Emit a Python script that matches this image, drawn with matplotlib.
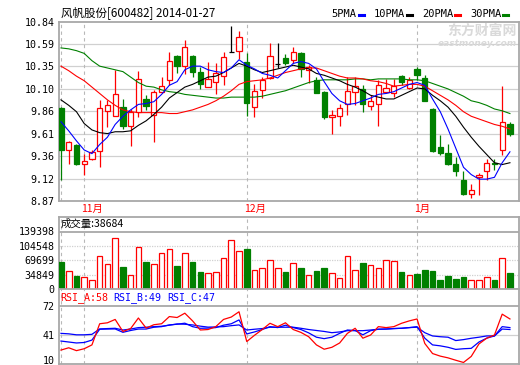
import matplotlib
matplotlib.use("Agg")
import matplotlib.pyplot as plt
from matplotlib.lines import Line2D
import numpy as np

# candle data (one entry per trading day)
opens = [9.886, 9.434, 9.489, 9.28, 9.335, 9.419, 9.856, 9.80, 9.903, 9.694,
         9.842, 9.988, 9.812, 10.069, 10.198, 10.462, 10.355, 10.462, 10.289, 10.117,
         10.172, 10.245, 10.51, 10.52, 10.399, 9.897, 10.087, 10.216, 10.371, 10.443,
         10.418, 10.492, 10.308, 10.198, 10.069, 9.787, 9.80, 9.933, 10.062, 10.095,
         9.911, 9.93, 10.069, 10.058, 10.242, 10.106, 10.319, 10.223, 9.878, 9.459,
         9.401, 9.272, 9.096, 8.949, 9.132, 9.203, 9.29, 9.426, 9.713]
closes = [9.434, 9.518, 9.28, 9.313, 9.408, 9.886, 9.919, 10.04, 9.694, 9.848,
          10.205, 9.911, 10.062, 10.128, 10.407, 10.355, 10.558, 10.289, 10.15, 10.212,
          10.271, 10.448, 10.51, 10.668, 9.948, 10.08, 10.197, 10.462, 10.371, 10.381,
          10.503, 10.316, 10.344, 10.058, 9.787, 9.812, 9.886, 10.08, 10.132, 9.93,
          9.966, 10.143, 10.106, 10.132, 10.176, 10.198, 10.253, 9.966, 9.415, 9.401,
          9.272, 9.198, 8.942, 8.986, 9.159, 9.287, 9.28, 9.738, 9.61]
highs = [9.90, 9.53, 9.50, 9.39, 9.426, 9.977, 9.977, 10.308, 9.988, 9.875,
         10.297, 10.032, 10.087, 10.227, 10.51, 10.473, 10.638, 10.473, 10.344, 10.40,
         10.382, 10.50, 10.793, 10.741, 10.492, 10.154, 10.23, 10.609, 10.609, 10.48,
         10.565, 10.503, 10.363, 10.234, 10.076, 9.867, 9.93, 10.234, 10.234, 10.143,
         10.032, 10.198, 10.209, 10.209, 10.253, 10.234, 10.344, 10.253, 9.886, 9.592,
         9.50, 9.353, 9.198, 9.06, 9.176, 9.335, 9.335, 10.132, 9.738]
lows = [9.096, 9.28, 9.27, 9.159, 9.316, 9.242, 9.683, 9.80, 9.658, 9.474,
        9.787, 9.867, 9.518, 10.058, 10.143, 10.27, 10.264, 10.234, 10.095, 10.117,
        10.04, 10.143, 10.50, 10.426, 9.80, 9.793, 9.996, 10.21, 10.333, 10.363,
        10.388, 10.234, 10.168, 10.051, 9.768, 9.61, 9.694, 9.812, 9.922, 9.848,
        9.867, 9.694, 10.051, 10.007, 10.143, 10.095, 10.198, 9.966, 9.408, 9.371,
        9.261, 9.14, 8.931, 8.90, 8.931, 9.104, 9.214, 9.379, 9.58]
volumes = [66000, 43600, 31500, 29000, 21800, 80000, 60600, 123000, 53300, 34000,
           102000, 65400, 60600, 87300, 97000, 55000, 88000, 65000, 41000, 40000,
           42000, 74000, 118000, 91000, 98000, 46000, 50000, 70000, 52000, 41000,
           64000, 50000, 33000, 43000, 50000, 38000, 26000, 79000, 47000, 62000,
           57000, 52000, 71000, 67000, 41000, 35000, 36000, 46000, 43000, 22000,
           31000, 24000, 29000, 21000, 21000, 28000, 22000, 74000, 38684]

ma5 = [9.74, 9.64, 9.53, 9.43, 9.39, 9.49, 9.57, 9.71, 9.80, 9.87,
       9.93, 9.94, 9.96, 10.04, 10.14, 10.18, 10.31, 10.35, 10.35, 10.31,
       10.29, 10.28, 10.33, 10.42, 10.36, 10.32, 10.27, 10.25, 10.22, 10.30,
       10.38, 10.40, 10.38, 10.32, 10.18, 10.05, 9.97, 9.93, 9.94, 9.97,
       10.00, 10.04, 10.05, 10.07, 10.11, 10.15, 10.17, 10.14, 9.99, 9.85,
       9.66, 9.45, 9.24, 9.16, 9.11, 9.11, 9.13, 9.29, 9.41]
ma10 = [9.98, 9.92, 9.85, 9.72, 9.65, 9.62, 9.61, 9.63, 9.63, 9.64,
        9.70, 9.75, 9.82, 9.90, 10.00, 10.06, 10.12, 10.15, 10.19, 10.23,
        10.24, 10.28, 10.33, 10.38, 10.35, 10.31, 10.28, 10.30, 10.32, 10.34,
        10.36, 10.34, 10.32, 10.27, 10.25, 10.22, 10.19, 10.15, 10.12, 10.08,
        10.03, 10.01, 9.99, 9.99, 10.03, 10.07, 10.11, 10.10, 10.03, 9.97,
        9.90, 9.80, 9.68, 9.57, 9.47, 9.38, 9.29, 9.27, 9.29]
ma20 = [10.35, 10.30, 10.24, 10.19, 10.12, 10.05, 9.98, 9.92, 9.87, 9.85,
        9.84, 9.84, 9.84, 9.84, 9.83, 9.83, 9.85, 9.87, 9.90, 9.93,
        9.97, 10.02, 10.08, 10.15, 10.18, 10.19, 10.20, 10.22, 10.25, 10.28,
        10.30, 10.32, 10.33, 10.33, 10.30, 10.27, 10.24, 10.22, 10.22, 10.21,
        10.19, 10.18, 10.16, 10.13, 10.14, 10.15, 10.15, 10.13, 10.08, 10.03,
        9.98, 9.92, 9.85, 9.80, 9.77, 9.74, 9.71, 9.69, 9.66]
ma30 = [10.55, 10.54, 10.52, 10.49, 10.41, 10.35, 10.33, 10.31, 10.29, 10.23,
        10.17, 10.13, 10.12, 10.09, 10.07, 10.06, 10.04, 10.03, 10.02, 10.01,
        10.00, 10.00, 10.01, 10.01, 10.01, 10.01, 10.02, 10.04, 10.06, 10.08,
        10.11, 10.14, 10.17, 10.19, 10.20, 10.20, 10.20, 10.20, 10.21, 10.21,
        10.20, 10.21, 10.21, 10.21, 10.21, 10.20, 10.20, 10.19, 10.16, 10.13,
        10.10, 10.06, 10.02, 9.97, 9.95, 9.92, 9.88, 9.86, 9.83]

rsi_a = [25.6, 28, 25, 27, 31, 53, 54, 57.5, 45, 48,
         59, 48.5, 52, 53, 60.5, 59.5, 64, 56, 46.5, 47,
         50, 57.5, 60, 65.5, 34.5, 41, 47, 53.5, 50, 54,
         47, 44, 39.5, 31, 26.5, 28.5, 33, 43, 48.3, 38,
         41.3, 50, 49, 50, 53.5, 56, 58, 32.5, 22, 19.3,
         17.5, 15, 12.7, 19, 32, 38, 41.3, 63, 58]
rsi_b = [35, 34, 33, 33.5, 36, 47.3, 47.5, 47.6, 44.1, 46,
         47.5, 47.5, 49.4, 50, 51.8, 52.5, 53.6, 50, 48.3, 48.5,
         49, 51.5, 53, 57, 42.4, 44.5, 47, 50, 49, 51.5,
         49, 47, 43.5, 39, 37.5, 39, 43, 46.5, 46, 41.5,
         45.8, 47.3, 47.5, 48, 48.3, 49, 50, 38, 31, 30,
         28.5, 26.3, 27, 27.4, 34, 38, 40.3, 50, 49]
rsi_c = [43, 42.5, 41.5, 41.5, 42, 47.6, 48, 48.3, 46.5, 47.5,
         49, 49.4, 50, 50.4, 51.5, 52.8, 52.5, 51.8, 50.5, 49.5,
         49.7, 50, 51, 51.8, 46.5, 47.3, 48, 49.4, 49.4, 49.4,
         49.4, 48.3, 47, 46, 45, 43.7, 44.5, 45.8, 45.8, 45.8,
         46.5, 47.3, 47.5, 48, 48.3, 49, 49.4, 43.7, 40.3, 39.5,
         39, 35.5, 36.5, 37.9, 39, 40.3, 40.3, 47.5, 47]

price_ticks = [8.87, 9.11625, 9.3625, 9.60875, 9.855, 10.10125, 10.3475, 10.59375, 10.84]
price_labels = ["8.87", "9.12", "9.36", "9.61", "9.86", "10.10", "10.35", "10.59", "10.84"]
vol_ticks = [0, 34849, 69699, 104548, 139398]
month_idx = [3, 24, 46]
month_labels = ["11月", "12月", "1月"]
divider_idx = [0, 3, 24, 46]

RED = "#ff0000"
GREEN = "#008000"
BLUE = "#0000ff"
FRAME = "#a8a8a8"
GRID = "#d0d0d0"
CJK = ["Noto Sans CJK SC", "DejaVu Sans"]
MONO = "DejaVu Sans Mono"

W, H = 520, 365
fig = plt.figure(figsize=(W / 100, H / 100), dpi=100)
fig.patch.set_facecolor("white")


def box(l, t, r, b):
    return [l / W, 1 - b / H, (r - l) / W, (b - t) / H]


ax = fig.add_axes(box(58.5, 21.5, 519, 201))
axv = fig.add_axes(box(58.5, 216.5, 519, 289))
axr = fig.add_axes(box(58.5, 289, 519, 364))

n = len(closes)
x = np.arange(n)
xlim = (-0.32, 59.17)

for a in (ax, axv, axr):
    a.set_xlim(*xlim)
    a.set_xticks([])
    for s in a.spines.values():
        s.set_color(FRAME)
        s.set_linewidth(1.3)
    for d in divider_idx:
        a.axvline(d, color="#b8b8b8", lw=0.8, ls=(0, (3, 3)), zorder=1)
    a.tick_params(axis="y", length=0, pad=3, labelsize=7.2)
    for lab in a.get_yticklabels():
        lab.set_family(MONO)

# ---- price panel
ax.set_ylim(8.87, 10.84)
ax.set_yticks(price_ticks)
ax.set_yticklabels(price_labels, family=MONO, fontsize=7.2)
for t in price_ticks[1:-1]:
    ax.axhline(t, color=GRID, lw=0.9, zorder=0)

body_w = 0.68
for i in range(n):
    o, c, h, l = opens[i], closes[i], highs[i], lows[i]
    if abs(c - o) < 0.005 and i != 56:
        ax.vlines(i, l, h, color="black", lw=0.9, zorder=3)
        ax.hlines(o, i - body_w / 2, i + body_w / 2, color="black", lw=0.9, zorder=3)
        continue
    up = c >= o
    col = RED if up else GREEN
    ax.vlines(i, l, h, color=col, lw=0.9, zorder=2)
    lo, hi = min(o, c), max(o, c)
    ax.bar(i, max(hi - lo, 0.004), bottom=lo, width=body_w,
           facecolor="white" if up else GREEN, edgecolor=col, lw=0.9, zorder=3)

ax.plot(x, ma30, color=GREEN, lw=0.8, zorder=4)
ax.plot(x, ma20, color=RED, lw=0.8, zorder=4)
ax.plot(x, ma10, color="black", lw=0.8, zorder=4)
ax.plot(x, ma5, color=BLUE, lw=0.8, zorder=4)

for d, lab in zip(month_idx, month_labels):
    ax.annotate(lab, xy=(d, 0), xycoords=("data", "axes fraction"),
                xytext=(-2, -2), textcoords="offset points",
                ha="left", va="top", color=RED, fontsize=7.5, family=CJK)

# ---- volume panel
vol_top = 139398 * 72.5 / 57.5
axv.set_ylim(0, vol_top)
axv.set_yticks(vol_ticks)
axv.set_yticklabels([str(v) for v in vol_ticks], family=MONO, fontsize=7.2)
axv.axhline(139398, color=FRAME, lw=1.3, zorder=1)
for t in vol_ticks[1:-1]:
    axv.axhline(t, color=GRID, lw=0.9, ls=(0, (1, 1)), zorder=0)
for i in range(n):
    up = closes[i] >= opens[i]
    col = RED if up else GREEN
    axv.bar(i, volumes[i], width=0.72, facecolor="white" if up else GREEN,
            edgecolor=col, lw=0.9, zorder=3)
axv.text(0.004, (139398 + vol_top) / 2 / vol_top, "成交量:%d" % volumes[-1],
         transform=axv.transAxes, ha="left", va="center", fontsize=7.5,
         family=CJK, color="black")

# ---- RSI panel
axr.set_ylim(11.1, 89.2)
axr.set_yticks([15.3, 41, 72])
axr.set_yticklabels(["10", "41", "72"], family=MONO, fontsize=7.2)
axr.axhline(72, color=FRAME, lw=1.3, zorder=1)
axr.axhline(41, color=GRID, lw=0.9, zorder=0)
axr.plot(x, rsi_c, color=BLUE, lw=0.9, zorder=3)
axr.plot(x, rsi_b, color=BLUE, lw=0.9, zorder=3)
axr.plot(x, rsi_a, color=RED, lw=0.9, zorder=4)
rsi_y = (72 + 89.2) / 2
axr.text(0.004, (rsi_y - 11.1) / (89.2 - 11.1), "RSI_A:%d" % rsi_a[-1], transform=axr.transAxes,
         ha="left", va="center", color=RED, fontsize=7.2, family=MONO)
axr.text(0.119, (rsi_y - 11.1) / (89.2 - 11.1), "RSI_B:%d" % rsi_b[-1], transform=axr.transAxes,
         ha="left", va="center", color=BLUE, fontsize=7.2, family=MONO)
axr.text(0.236, (rsi_y - 11.1) / (89.2 - 11.1), "RSI_C:%d" % rsi_c[-1], transform=axr.transAxes,
         ha="left", va="center", color=BLUE, fontsize=7.2, family=MONO)

# ---- header
fig.text(61 / W, 1 - 13 / H, "风帆股份[600482] 2014-01-27", ha="left", va="center",
         fontsize=8.3, family=CJK)
legend = [("5PMA", BLUE, 331, 359), ("10PMA", "black", 374, 407),
          ("20PMA", RED, 422, 455), ("30PMA", GREEN, 470, 503)]
for name, col, tx, lx in legend:
    fig.text(tx / W, 1 - 14 / H, name, ha="left", va="center", fontsize=7.5, family=MONO)
    fig.add_artist(Line2D([lx / W, (lx + 5) / W], [1 - 15 / H, 1 - 15 / H],
                          color=col, lw=2.2, transform=fig.transFigure))

# faint watermark
fig.text(517 / W, 1 - 31 / H, "东方财富网", ha="right", va="center", fontsize=10,
         family=CJK, weight="bold", color="#d9d9d9")
fig.text(517 / W, 1 - 43 / H, "eastmoney.com", ha="right", va="center", fontsize=6.5,
         style="italic", weight="bold", color="#d9d9d9")

fig.savefig("out.png", dpi=100, facecolor="white")
